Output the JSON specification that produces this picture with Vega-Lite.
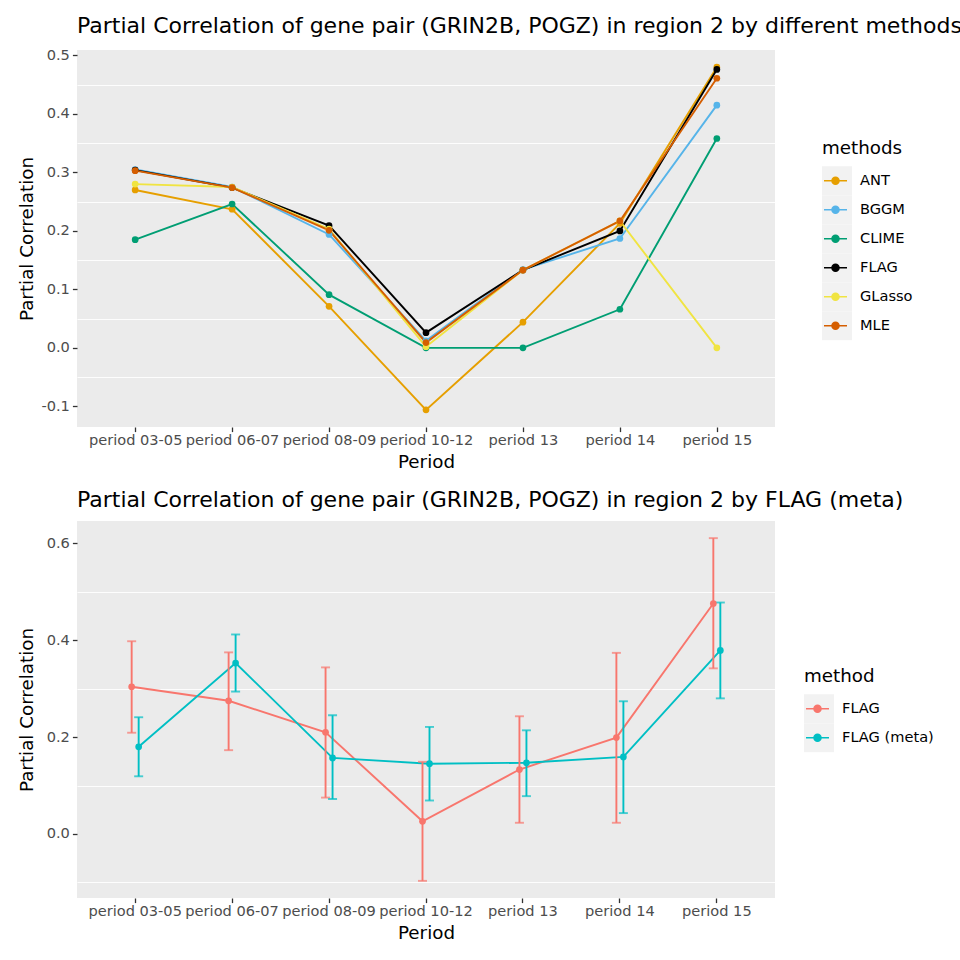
{
  "$schema": "https://vega.github.io/schema/vega-lite/v6.json",
  "padding": {"left": 17, "top": 15, "right": 0, "bottom": 0},
  "datasets": {
    "top": [
      {"period": "period 03-05", "method": "ANT", "value": 0.270},
      {"period": "period 06-07", "method": "ANT", "value": 0.237},
      {"period": "period 08-09", "method": "ANT", "value": 0.071},
      {"period": "period 10-12", "method": "ANT", "value": -0.106},
      {"period": "period 13", "method": "ANT", "value": 0.044},
      {"period": "period 14", "method": "ANT", "value": 0.213},
      {"period": "period 15", "method": "ANT", "value": 0.480},
      {"period": "period 03-05", "method": "BGGM", "value": 0.305},
      {"period": "period 06-07", "method": "BGGM", "value": 0.275},
      {"period": "period 08-09", "method": "BGGM", "value": 0.194},
      {"period": "period 10-12", "method": "BGGM", "value": 0.012},
      {"period": "period 13", "method": "BGGM", "value": 0.134},
      {"period": "period 14", "method": "BGGM", "value": 0.187},
      {"period": "period 15", "method": "BGGM", "value": 0.415},
      {"period": "period 03-05", "method": "CLIME", "value": 0.185},
      {"period": "period 06-07", "method": "CLIME", "value": 0.246},
      {"period": "period 08-09", "method": "CLIME", "value": 0.091},
      {"period": "period 10-12", "method": "CLIME", "value": 0.000},
      {"period": "period 13", "method": "CLIME", "value": 0.000},
      {"period": "period 14", "method": "CLIME", "value": 0.066},
      {"period": "period 15", "method": "CLIME", "value": 0.358},
      {"period": "period 03-05", "method": "FLAG", "value": 0.304},
      {"period": "period 06-07", "method": "FLAG", "value": 0.274},
      {"period": "period 08-09", "method": "FLAG", "value": 0.209},
      {"period": "period 10-12", "method": "FLAG", "value": 0.026},
      {"period": "period 13", "method": "FLAG", "value": 0.133},
      {"period": "period 14", "method": "FLAG", "value": 0.200},
      {"period": "period 15", "method": "FLAG", "value": 0.476},
      {"period": "period 03-05", "method": "GLasso", "value": 0.280},
      {"period": "period 06-07", "method": "GLasso", "value": 0.275},
      {"period": "period 08-09", "method": "GLasso", "value": 0.203},
      {"period": "period 10-12", "method": "GLasso", "value": 0.002},
      {"period": "period 13", "method": "GLasso", "value": 0.133},
      {"period": "period 14", "method": "GLasso", "value": 0.217},
      {"period": "period 15", "method": "GLasso", "value": 0.000},
      {"period": "period 03-05", "method": "MLE", "value": 0.303},
      {"period": "period 06-07", "method": "MLE", "value": 0.274},
      {"period": "period 08-09", "method": "MLE", "value": 0.201},
      {"period": "period 10-12", "method": "MLE", "value": 0.009},
      {"period": "period 13", "method": "MLE", "value": 0.133},
      {"period": "period 14", "method": "MLE", "value": 0.217},
      {"period": "period 15", "method": "MLE", "value": 0.461}
    ],
    "bottom": [
      {"period": "period 03-05", "method": "FLAG", "value": 0.304, "lo": 0.209, "hi": 0.398},
      {"period": "period 06-07", "method": "FLAG", "value": 0.275, "lo": 0.173, "hi": 0.375},
      {"period": "period 08-09", "method": "FLAG", "value": 0.210, "lo": 0.075, "hi": 0.344},
      {"period": "period 10-12", "method": "FLAG", "value": 0.026, "lo": -0.097, "hi": 0.149},
      {"period": "period 13", "method": "FLAG", "value": 0.133, "lo": 0.023, "hi": 0.243},
      {"period": "period 14", "method": "FLAG", "value": 0.199, "lo": 0.023, "hi": 0.374},
      {"period": "period 15", "method": "FLAG", "value": 0.476, "lo": 0.342, "hi": 0.611},
      {"period": "period 03-05", "method": "FLAG (meta)", "value": 0.180, "lo": 0.119, "hi": 0.241},
      {"period": "period 06-07", "method": "FLAG (meta)", "value": 0.353, "lo": 0.294, "hi": 0.412},
      {"period": "period 08-09", "method": "FLAG (meta)", "value": 0.157, "lo": 0.072, "hi": 0.245},
      {"period": "period 10-12", "method": "FLAG (meta)", "value": 0.145, "lo": 0.069, "hi": 0.221},
      {"period": "period 13", "method": "FLAG (meta)", "value": 0.147, "lo": 0.078, "hi": 0.214},
      {"period": "period 14", "method": "FLAG (meta)", "value": 0.159, "lo": 0.043, "hi": 0.274},
      {"period": "period 15", "method": "FLAG (meta)", "value": 0.379, "lo": 0.280, "hi": 0.478}
    ]
  },
  "config": {
    "font": "DejaVu Sans",
    "view": {"fill": "#EBEBEB", "stroke": null},
    "axis": {
      "domain": false,
      "labelFont": "DejaVu Sans",
      "labelFontSize": 14.6,
      "labelColor": "#4D4D4D",
      "labelPadding": 3,
      "titleFont": "DejaVu Sans",
      "titleFontSize": 18.3,
      "titleFontWeight": "normal",
      "titleColor": "#000000",
      "tickColor": "#333333",
      "tickSize": 4.6,
      "tickWidth": 1.3,
      "gridColor": "#FFFFFF",
      "gridWidth": 1.8
    },
    "title": {"fontSize": 22, "fontWeight": "normal", "anchor": "start", "frame": "group", "color": "#000000", "offset": 9},
    "legend": {
      "titleFontSize": 18.3,
      "titleFontWeight": "normal",
      "titleColor": "#000000",
      "titlePadding": 8,
      "labelFontSize": 14.6,
      "labelColor": "#000000",
      "labelOffset": 11,
      "rowPadding": 0,
      "clipHeight": 29
    },
    "concat": {"spacing": 18}
  },
  "resolve": {"scale": {"color": "independent", "opacity": "independent"}},
  "vconcat": [
    {
      "title": "Partial Correlation of gene pair (GRIN2B, POGZ) in region 2 by different methods",
      "width": 698,
      "height": 377,
      "data": {"name": "top"},
      "encoding": {
        "x": {
          "field": "period", "type": "nominal", "sort": null, "title": "Period",
          "scale": {"type": "point", "padding": 0.6},
          "axis": {"labelAngle": 0, "labelOverlap": false, "labelPadding": 1, "titlePadding": 6}
        },
        "color": {
          "field": "method", "type": "nominal",
          "scale": {"domain": ["ANT", "BGGM", "CLIME", "FLAG", "GLasso", "MLE"], "range": ["#E69F00", "#56B4E9", "#009E73", "#000000", "#F0E442", "#D55E00"]},
          "legend": {
            "orient": "none", "legendX": 745, "legendY": 90, "title": "methods", "zindex": 1, "rowPadding": 0, "clipHeight": 29,
            "symbolSize": 625, "symbolStrokeWidth": 1.5,
            "symbolType": "M0,-1M0,1M-0.92,0L0.92,0M-0.28,0A0.28,0.28,0,1,0,0.28,0A0.28,0.28,0,1,0,-0.28,0Z"
          }
        }
      },
      "layer": [
        {
          "mark": {"type": "point", "opacity": 0},
          "encoding": {
            "y": {
              "field": "value", "type": "quantitative",
              "axis": {"orient": "left", "values": [-0.05, 0.05, 0.15, 0.25, 0.35, 0.45], "grid": true, "gridWidth": 0.9, "labels": false, "ticks": false, "title": null}
            }
          }
        },
        {
          "mark": {"type": "line", "strokeWidth": 1.9},
          "encoding": {
            "y": {
              "field": "value", "type": "quantitative", "title": "Partial Correlation",
              "scale": {"domain": [-0.1353, 0.5093], "nice": false, "zero": false},
              "axis": {"orient": "left", "values": [-0.1, 0, 0.1, 0.2, 0.3, 0.4, 0.5], "labelExpr": "replace(format(datum.value, '.1f'), '\u2212', '-')", "titleX": -45, "titleBaseline": "alphabetic"}
            }
          }
        },
        {
          "mark": {"type": "point", "filled": true, "size": 45},
          "encoding": {
            "y": {"field": "value", "type": "quantitative", "axis": null},
            "opacity": {
              "field": "method", "type": "nominal",
              "scale": {"range": [1, 1]},
              "legend": {
                "orient": "none", "legendX": 745, "legendY": 90, "title": "methods", "zindex": 0, "rowPadding": 0, "clipHeight": 29,
                "titleColor": "transparent", "labelExpr": "''",
                "symbolSize": 900, "symbolStrokeWidth": 0,
                "symbolType": "square", "symbolFillColor": "#F2F2F2", "symbolStrokeColor": "#F2F2F2"
              }
            }
          }
        }
      ],
      "resolve": {"axis": {"y": "independent"}}
    },
    {
      "title": "Partial Correlation of gene pair (GRIN2B, POGZ) in region 2 by FLAG (meta)",
      "width": 698,
      "height": 377,
      "data": {"name": "bottom"},
      "encoding": {
        "x": {
          "field": "period", "type": "nominal", "sort": null, "title": "Period",
          "scale": {"type": "band", "paddingInner": 0, "paddingOuter": 0.1},
          "axis": {"labelAngle": 0, "labelOverlap": false, "labelPadding": 1, "titlePadding": 6}
        },
        "xOffset": {
          "field": "method", "type": "nominal",
          "scale": {"type": "band", "paddingInner": 0, "paddingOuter": 0, "range": [41.47, 55.47]}
        },
        "color": {
          "field": "method", "type": "nominal",
          "scale": {"domain": ["FLAG", "FLAG (meta)"], "range": ["#F8766D", "#00BFC4"]},
          "legend": {
            "orient": "none", "legendX": 727, "legendY": 147, "title": "method", "zindex": 1, "rowPadding": 0, "clipHeight": 29,
            "symbolSize": 625, "symbolStrokeWidth": 1.5,
            "symbolType": "M0,-1M0,1M-0.92,0L0.92,0M-0.28,0A0.28,0.28,0,1,0,0.28,0A0.28,0.28,0,1,0,-0.28,0Z"
          }
        }
      },
      "layer": [
        {
          "mark": {"type": "point", "opacity": 0},
          "encoding": {
            "y": {
              "field": "value", "type": "quantitative",
              "axis": {"orient": "left", "values": [-0.1, 0.1, 0.3, 0.5], "grid": true, "gridWidth": 0.9, "labels": false, "ticks": false, "title": null}
            }
          }
        },
        {
          "mark": {"type": "line", "strokeWidth": 1.9},
          "encoding": {
            "y": {
              "field": "value", "type": "quantitative", "title": "Partial Correlation",
              "scale": {"domain": [-0.1324, 0.6464], "nice": false, "zero": false},
              "axis": {"orient": "left", "values": [0, 0.2, 0.4, 0.6], "labelExpr": "replace(format(datum.value, '.1f'), '\u2212', '-')", "titleX": -45, "titleBaseline": "alphabetic"}
            }
          }
        },
        {
          "mark": {"type": "rule", "strokeWidth": 1.9},
          "encoding": {
            "y": {"field": "lo", "type": "quantitative", "axis": null},
            "y2": {"field": "hi"}
          }
        },
        {
          "mark": {"type": "tick", "size": 9, "thickness": 1.9, "orient": "horizontal"},
          "encoding": {"y": {"field": "lo", "type": "quantitative", "axis": null}}
        },
        {
          "mark": {"type": "tick", "size": 9, "thickness": 1.9, "orient": "horizontal"},
          "encoding": {"y": {"field": "hi", "type": "quantitative", "axis": null}}
        },
        {
          "mark": {"type": "point", "filled": true, "size": 45},
          "encoding": {
            "y": {"field": "value", "type": "quantitative", "axis": null},
            "opacity": {
              "field": "method", "type": "nominal",
              "scale": {"range": [1, 1]},
              "legend": {
                "orient": "none", "legendX": 727, "legendY": 147, "title": "method", "zindex": 0, "rowPadding": 0, "clipHeight": 29,
                "titleColor": "transparent", "labelExpr": "''",
                "symbolSize": 900, "symbolStrokeWidth": 0,
                "symbolType": "square", "symbolFillColor": "#F2F2F2", "symbolStrokeColor": "#F2F2F2"
              }
            }
          }
        }
      ],
      "resolve": {"axis": {"y": "independent"}}
    }
  ]
}
